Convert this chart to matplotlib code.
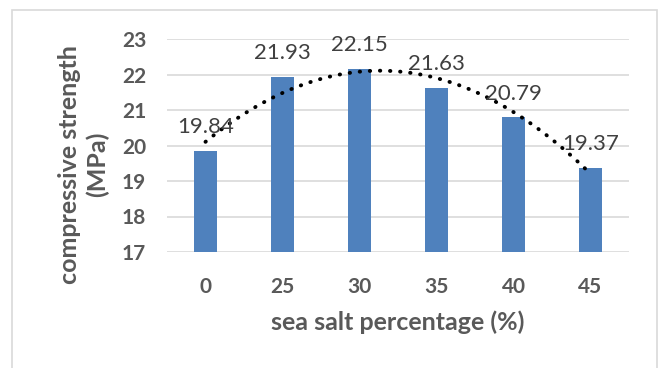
import numpy as np
import matplotlib
matplotlib.use("Agg")
import matplotlib.pyplot as plt
from matplotlib.patches import Rectangle

categories = ["0", "25", "30", "35", "40", "45"]
strength = [19.84, 21.93, 22.15, 21.63, 20.79, 19.37]
y_ticks = [17, 18, 19, 20, 21, 22, 23]

BAR = "#4F81BD"
GRID = "#D9D9D9"
TICK = "#595959"
LABEL = "#404040"
FONT = "Lato"

fig = plt.figure(figsize=(6.64, 3.68), dpi=100)
fig.patch.set_facecolor("white")

# outer chart frame (bottom edge runs past the canvas)
top = 1 - 10 / 368
fig.add_artist(Rectangle((12 / 664, -0.05), (657 - 12) / 664, top + 0.05,
                         transform=fig.transFigure, fill=False, edgecolor=GRID, linewidth=1.2))

ax = fig.add_axes([167 / 664, 1 - 252 / 368, (629 - 167) / 664, (252 - 39) / 368])
x = np.arange(len(categories))
ax.bar(x, strength, width=0.31, color=BAR, zorder=2)

# second-order polynomial trend line through the bar values
coef = np.polyfit(x + 1, strength, 2)
xs = np.linspace(0, len(categories) - 1, 300)
ax.plot(xs, np.polyval(coef, xs + 1), color="black", linewidth=2.8,
        linestyle=(0, (0.1, 2.5)), dash_capstyle="round", zorder=3)

for xi, v in zip(x, strength):
    ax.annotate(f"{v:.2f}", (xi, v), xytext=(0, 10), textcoords="offset points",
                ha="center", va="bottom", fontsize=16, color=LABEL, family=FONT, zorder=4)

ax.set_xlim(-0.5, len(categories) - 0.5)
ax.set_ylim(17, 23)
ax.set_yticks(y_ticks)
ax.set_xticks(x)
ax.set_xticklabels(categories)
ax.yaxis.grid(True, color=GRID, linewidth=1.2, zorder=0)
ax.set_axisbelow(True)
for s in ax.spines.values():
    s.set_visible(False)
ax.tick_params(length=0, labelsize=15, labelcolor=TICK)
ax.tick_params(axis="y", pad=15)
ax.tick_params(axis="x", pad=18)
for lab in ax.get_xticklabels() + ax.get_yticklabels():
    lab.set_fontfamily(FONT)
    lab.set_fontweight("bold")

ax.set_xlabel("sea salt percentage (%)", fontsize=18, fontweight="bold", color=TICK,
              family=FONT, labelpad=10)
ax.set_ylabel("compressive strength\n(MPa)", fontsize=18, fontweight="bold", color=TICK,
              family=FONT, linespacing=1.25)
ax.yaxis.set_label_coords(-0.125, 0.41)

fig.savefig("out.png", dpi=100, facecolor="white")
